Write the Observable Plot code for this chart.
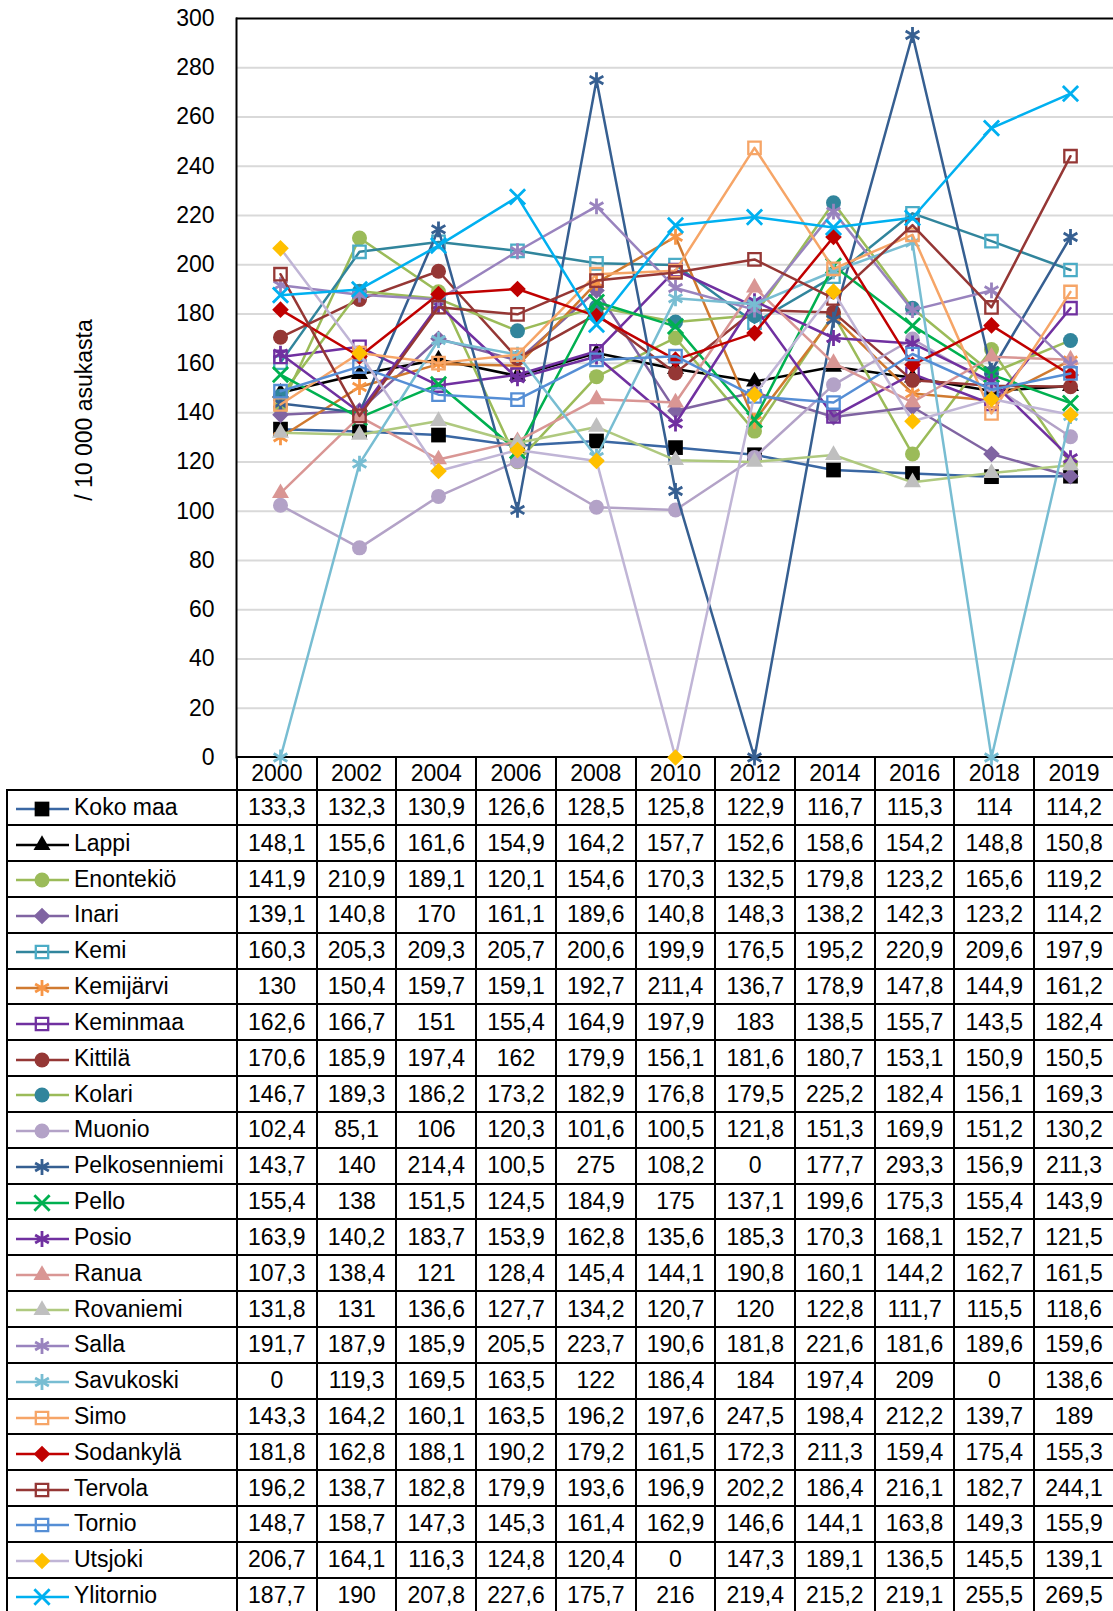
<!DOCTYPE html>
<html><head><meta charset="utf-8">
<script src="https://cdn.jsdelivr.net/npm/d3@7"></script>
<script src="https://cdn.jsdelivr.net/npm/@observablehq/plot@0.6"></script>
<style>
html,body{margin:0;padding:0;background:#fff;}
body{width:1113px;height:1611px;position:relative;overflow:hidden;font-family:"Liberation Sans",Arial,sans-serif;color:#000;}
#ylabel{position:absolute;left:84px;top:410px;transform:translate(-50%,-50%) rotate(-90deg);font-size:23px;white-space:nowrap;}
#chart{position:absolute;left:0;top:0;z-index:2;}
#tbl{position:absolute;left:6px;top:756px;border-collapse:collapse;table-layout:fixed;font-size:23px;z-index:1;}
#tbl td{border:2px solid #000;padding:0;text-align:center;white-space:nowrap;overflow:hidden;}
#tbl tr{height:35.83px}
#tbl tr.hdr{height:32.5px}
#tbl td.blank{border:none}
#tbl td.lg{text-align:left}
#tbl td.lg svg{vertical-align:middle;margin-left:1px;margin-right:3px;overflow:visible}
</style></head><body>
<div id="ylabel">/ 10 000 asukasta</div>
<div id="chart"></div>
<table id="tbl"></table>
<script>
const years = [2000, 2002, 2004, 2006, 2008, 2010, 2012, 2014, 2016, 2018, 2019];
const yTicks = [0, 20, 40, 60, 80, 100, 120, 140, 160, 180, 200, 220, 240, 260, 280, 300];

const kokoMaa       = [133.3, 132.3, 130.9, 126.6, 128.5, 125.8, 122.9, 116.7, 115.3, 114, 114.2];
const lappi         = [148.1, 155.6, 161.6, 154.9, 164.2, 157.7, 152.6, 158.6, 154.2, 148.8, 150.8];
const enontekio     = [141.9, 210.9, 189.1, 120.1, 154.6, 170.3, 132.5, 179.8, 123.2, 165.6, 119.2];
const inari         = [139.1, 140.8, 170, 161.1, 189.6, 140.8, 148.3, 138.2, 142.3, 123.2, 114.2];
const kemi          = [160.3, 205.3, 209.3, 205.7, 200.6, 199.9, 176.5, 195.2, 220.9, 209.6, 197.9];
const kemijarvi     = [130, 150.4, 159.7, 159.1, 192.7, 211.4, 136.7, 178.9, 147.8, 144.9, 161.2];
const keminmaa      = [162.6, 166.7, 151, 155.4, 164.9, 197.9, 183, 138.5, 155.7, 143.5, 182.4];
const kittila       = [170.6, 185.9, 197.4, 162, 179.9, 156.1, 181.6, 180.7, 153.1, 150.9, 150.5];
const kolari        = [146.7, 189.3, 186.2, 173.2, 182.9, 176.8, 179.5, 225.2, 182.4, 156.1, 169.3];
const muonio        = [102.4, 85.1, 106, 120.3, 101.6, 100.5, 121.8, 151.3, 169.9, 151.2, 130.2];
const pelkosenniemi = [143.7, 140, 214.4, 100.5, 275, 108.2, 0, 177.7, 293.3, 156.9, 211.3];
const pello         = [155.4, 138, 151.5, 124.5, 184.9, 175, 137.1, 199.6, 175.3, 155.4, 143.9];
const posio         = [163.9, 140.2, 183.7, 153.9, 162.8, 135.6, 185.3, 170.3, 168.1, 152.7, 121.5];
const ranua         = [107.3, 138.4, 121, 128.4, 145.4, 144.1, 190.8, 160.1, 144.2, 162.7, 161.5];
const rovaniemi     = [131.8, 131, 136.6, 127.7, 134.2, 120.7, 120, 122.8, 111.7, 115.5, 118.6];
const salla         = [191.7, 187.9, 185.9, 205.5, 223.7, 190.6, 181.8, 221.6, 181.6, 189.6, 159.6];
const savukoski     = [0, 119.3, 169.5, 163.5, 122, 186.4, 184, 197.4, 209, 0, 138.6];
const simo          = [143.3, 164.2, 160.1, 163.5, 196.2, 197.6, 247.5, 198.4, 212.2, 139.7, 189];
const sodankyla     = [181.8, 162.8, 188.1, 190.2, 179.2, 161.5, 172.3, 211.3, 159.4, 175.4, 155.3];
const tervola       = [196.2, 138.7, 182.8, 179.9, 193.6, 196.9, 202.2, 186.4, 216.1, 182.7, 244.1];
const tornio        = [148.7, 158.7, 147.3, 145.3, 161.4, 162.9, 146.6, 144.1, 163.8, 149.3, 155.9];
const utsjoki       = [206.7, 164.1, 116.3, 124.8, 120.4, 0, 147.3, 189.1, 136.5, 145.5, 139.1];
const ylitornio     = [187.7, 190, 207.8, 227.6, 175.7, 216, 219.4, 215.2, 219.1, 255.5, 269.5];

const seriesNames = ["Koko maa", "Lappi", "Enontekiö", "Inari", "Kemi", "Kemijärvi", "Keminmaa", "Kittilä", "Kolari",
  "Muonio", "Pelkosenniemi", "Pello", "Posio", "Ranua", "Rovaniemi", "Salla", "Savukoski", "Simo", "Sodankylä",
  "Tervola", "Tornio", "Utsjoki", "Ylitornio"];
const seriesValues = [kokoMaa, lappi, enontekio, inari, kemi, kemijarvi, keminmaa, kittila, kolari, muonio,
  pelkosenniemi, pello, posio, ranua, rovaniemi, salla, savukoski, simo, sodankyla, tervola, tornio, utsjoki, ylitornio];

// styles: line colour, marker colour, symbol, filled?, radius
const styles = [
  {line: "#3A67A3", mark: "#000000", symbol: "square", fill: true, r: 8.3},
  {line: "#000000", mark: "#000000", symbol: "triangle", fill: true, r: 6.3},
  {line: "#9BBB59", mark: "#9BBB59", symbol: "circle", fill: true, r: 7.5},
  {line: "#8064A2", mark: "#8064A2", symbol: "diamond2", fill: true, r: 7.5},
  {line: "#31859C", mark: "#4BACC6", symbol: "square", fill: false, r: 7},
  {line: "#D07A30", mark: "#F79646", symbol: "asterisk", fill: false, r: 7.5},
  {line: "#7030A0", mark: "#7030A0", symbol: "square", fill: false, r: 7},
  {line: "#953735", mark: "#953735", symbol: "circle", fill: true, r: 7.5},
  {line: "#9BBB59", mark: "#31859C", symbol: "circle", fill: true, r: 7.5},
  {line: "#B3A2C7", mark: "#B3A2C7", symbol: "circle", fill: true, r: 7.5},
  {line: "#365F91", mark: "#365F91", symbol: "asterisk", fill: false, r: 7.5},
  {line: "#00B050", mark: "#00B050", symbol: "times", fill: false, r: 7},
  {line: "#7030A0", mark: "#7030A0", symbol: "asterisk", fill: false, r: 7.5},
  {line: "#D99694", mark: "#D99694", symbol: "triangle", fill: true, r: 6.3},
  {line: "#AFC97F", mark: "#BFBFBF", symbol: "triangle", fill: true, r: 6.3},
  {line: "#9983BE", mark: "#9983BE", symbol: "asterisk", fill: false, r: 7.5},
  {line: "#78BDD2", mark: "#78BDD2", symbol: "asterisk", fill: false, r: 7.5},
  {line: "#F6A567", mark: "#F6A567", symbol: "square", fill: false, r: 7},
  {line: "#C00000", mark: "#C00000", symbol: "diamond2", fill: true, r: 7.5},
  {line: "#953735", mark: "#953735", symbol: "square", fill: false, r: 7},
  {line: "#558ED5", mark: "#558ED5", symbol: "square", fill: false, r: 7},
  {line: "#C0B5D6", mark: "#FFC000", symbol: "diamond2", fill: true, r: 7.5},
  {line: "#00B0F0", mark: "#00B0F0", symbol: "times", fill: false, r: 7}
];

const fmt = v => String(v).replace(".", ",");
const markStroke = st => st.symbol === "square" ? 2.3 : 2.8;

// ---- chart ----
const seriesMarks = [];
seriesValues.forEach((vals, si) => {
  const st = styles[si];
  const data = years.map((yr, i) => ({year: yr, value: vals[i], name: seriesNames[si]}));
  seriesMarks.push(Plot.line(data, {x: "year", y: "value", stroke: st.line, strokeWidth: 2.5}));
  seriesMarks.push(Plot.dot(data, {
    x: "year", y: "value", symbol: st.symbol, r: st.r,
    fill: st.fill ? st.mark : "none",
    stroke: st.fill ? "none" : st.mark,
    strokeWidth: markStroke(st)
  }));
});

const chart = Plot.plot({
  width: 1113,
  height: 758,
  marginLeft: 236,
  marginRight: 0,
  marginTop: 18,
  marginBottom: 1,
  style: {fontFamily: "'Liberation Sans', Arial, sans-serif", fontSize: "23px", overflow: "visible", background: "transparent", color: "#000"},
  x: {type: "point", domain: years, padding: 0.5, align: 0.5, axis: null},
  y: {domain: [0, 300]},
  marks: [
    Plot.ruleY(yTicks.filter(t => t > 0 && t < 300), {stroke: "#D9D9D9", strokeWidth: 2}),
    Plot.ruleY([300], {stroke: "#000", strokeWidth: 2}),
    Plot.frame({anchor: "left", stroke: "#000", strokeWidth: 2}),
    Plot.axisY(yTicks, {tickSize: 0, tickPadding: 22, fontSize: 23, label: null}),
    ...seriesMarks
  ]
});
document.getElementById("chart").appendChild(chart);

// ---- data table with legend keys ----
const symbolMap = {circle: d3.symbolCircle, square: d3.symbolSquare, diamond2: d3.symbolDiamond2,
  triangle: d3.symbolTriangle, asterisk: d3.symbolAsterisk, times: d3.symbolTimes};

const tbl = d3.select("#tbl");
const colW = 877 / years.length;
const cg = tbl.append("colgroup");
cg.append("col").style("width", "230px");
years.forEach(() => cg.append("col").style("width", colW + "px"));
tbl.style("width", (230 + 877) + "px");

const hdr = tbl.append("tr").attr("class", "hdr");
hdr.append("td").attr("class", "blank");
years.forEach(y => hdr.append("td").text(y));

seriesNames.forEach((name, si) => {
  const st = styles[si];
  const tr = tbl.append("tr");
  const lg = tr.append("td").attr("class", "lg");
  const svg = lg.append("svg").attr("width", 62).attr("height", 24);
  svg.append("line").attr("x1", 7).attr("x2", 60).attr("y1", 12).attr("y2", 12)
    .attr("stroke", st.line).attr("stroke-width", 2.5);
  svg.append("path").attr("transform", "translate(33,12)")
    .attr("d", d3.symbol(symbolMap[st.symbol], Math.PI * st.r * st.r)())
    .attr("fill", st.fill ? st.mark : "none")
    .attr("stroke", st.fill ? "none" : st.mark)
    .attr("stroke-width", markStroke(st));
  lg.append("span").text(name);
  seriesValues[si].forEach(v => tr.append("td").text(fmt(v)));
});
</script>
</body></html>
